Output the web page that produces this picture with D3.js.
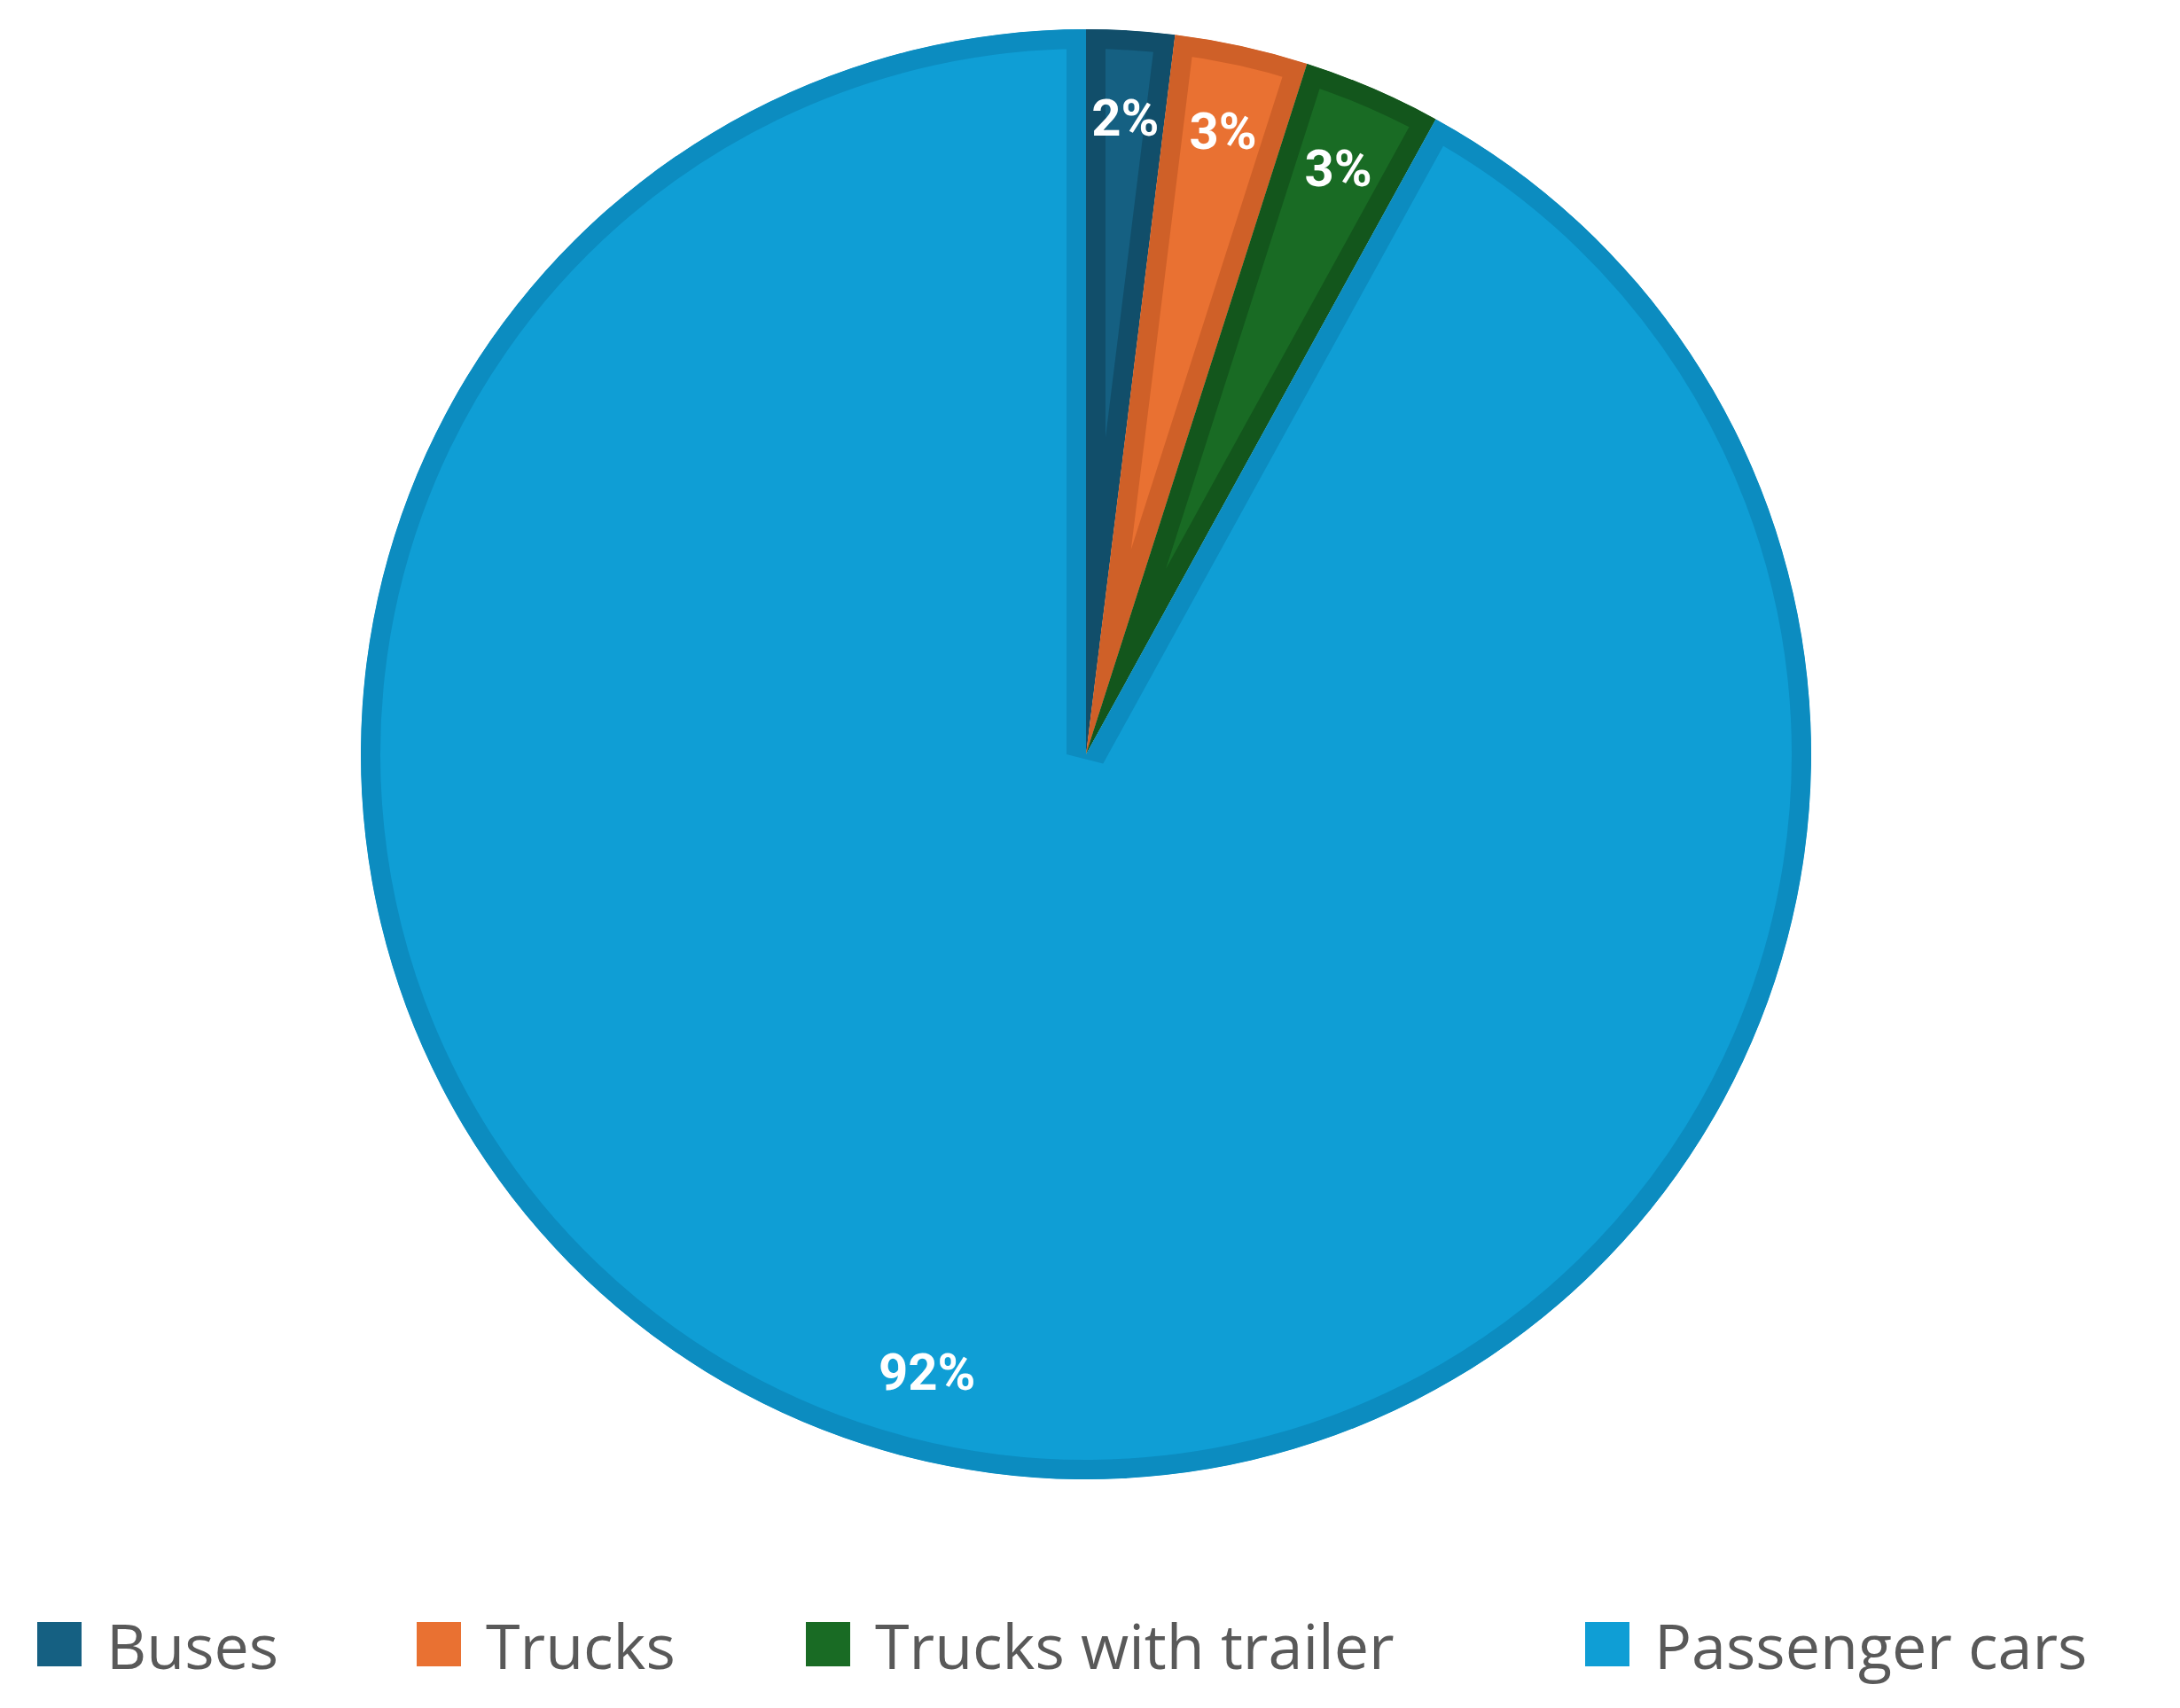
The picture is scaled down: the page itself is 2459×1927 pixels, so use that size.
<!DOCTYPE html>
<html><head><meta charset="utf-8">
<script src="https://cdn.jsdelivr.net/npm/d3@7"></script>
<style>body{margin:0;background:#fff}</style></head>
<body><svg id="c" width="2459" height="1927"></svg>
<script>
const categories = ["Buses", "Trucks", "Trucks with trailer", "Passenger cars"];
const values = [1.96, 2.97, 3.08, 91.99];
const labels = ["2%", "3%", "3%", "92%"];
const colors = ["#156082", "#E97132", "#196B24", "#0F9ED5"];
const borders = ["#114e6a", "#cf6028", "#13561c", "#0c8cc0"];

const svg = d3.select("#c");
const cx = 1225, cy = 851, R = 818;
const pie = d3.pie().sort(null).value(d => d)(values);
const arc = d3.arc().innerRadius(0).outerRadius(R);
const g = svg.append("g").attr("transform", `translate(${cx},${cy})`);
const defs = svg.append("defs");
pie.forEach((p, i) => {
  defs.append("clipPath").attr("id", "cl" + i).append("path").attr("d", arc(p));
  g.append("path").attr("d", arc(p)).attr("fill", colors[i])
    .attr("stroke", borders[i]).attr("stroke-width", 44)
    .attr("clip-path", `url(#cl${i})`);
});
const lab = d3.arc().innerRadius(R * 0.88).outerRadius(R * 0.88);
pie.forEach((p, i) => {
  const [x, y] = lab.centroid(p);
  g.append("text").attr("x", x).attr("y", y).attr("text-anchor", "middle")
    .attr("dominant-baseline", "central").attr("fill", "#fff")
    .attr("font-family", "Roboto, 'Open Sans', sans-serif").attr("font-weight", "bold")
    .attr("font-size", 58).text(labels[i]);
});
const lx = [42, 470, 909, 1788];
const lg = svg.append("g");
categories.forEach((c, i) => {
  lg.append("rect").attr("x", lx[i]).attr("y", 1830).attr("width", 50).attr("height", 50).attr("fill", colors[i]);
  lg.append("text").attr("x", lx[i] + 78).attr("y", 1856).attr("dominant-baseline", "central")
    .attr("font-family", "'Open Sans', sans-serif").attr("font-size", 70).attr("fill", "#595959").text(c);
});
</script></body></html>
